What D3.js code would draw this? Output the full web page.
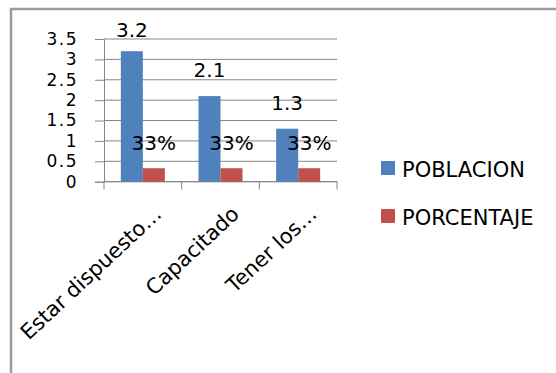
<!DOCTYPE html>
<html>
<head>
<meta charset="utf-8">
<script src="https://cdn.jsdelivr.net/npm/d3@7"></script>
<style>
  html, body { margin: 0; padding: 0; background: #fff; }
  svg { display: block; font-family: "DejaVu Sans", sans-serif; }
</style>
</head>
<body>
<svg id="chart" width="556" height="373"></svg>
<script>
// Categories and series
const categories = ["Estar dispuesto…", "Capacitado", "Tener los…"];
const seriesNames = ["POBLACION", "PORCENTAJE"];
const poblacion = [3.2, 2.1, 1.3];
const porcentaje = [0.33, 0.33, 0.33];
const yTicks = [0, 0.5, 1, 1.5, 2, 2.5, 3, 3.5];
const colors = ["#4F81BD", "#C0504D"];

const svg = d3.select("#chart");

// Outer chart frame (only top and left edges fall inside the view)
svg.append("rect")
  .attr("x", 11).attr("y", 9)
  .attr("width", 600).attr("height", 420)
  .attr("fill", "none")
  .attr("stroke", "#9b9b9b")
  .attr("stroke-width", 2.5);

const plot = { left: 104, right: 337, top: 39, bottom: 181.7 };

const y = d3.scaleLinear().domain([0, 3.5]).range([plot.bottom, plot.top]);
const x = d3.scaleBand().domain(categories).range([plot.left, plot.right])
  .paddingInner(0).paddingOuter(0);
const xs = d3.scaleBand().domain(seriesNames).range([0, x.bandwidth()])
  .paddingInner(0).paddingOuter(0.765);

// Horizontal gridlines
svg.append("g").selectAll("line").data(yTicks).join("line")
  .attr("x1", plot.left).attr("x2", plot.right)
  .attr("y1", d => y(d)).attr("y2", d => y(d))
  .attr("stroke", "#868686").attr("stroke-width", 1);

// Y axis
const yAxis = d3.axisLeft(y).tickValues(yTicks).tickSize(9).tickPadding(18)
  .tickFormat(d3.format("~g"));
const gy = svg.append("g").attr("transform", `translate(${plot.left},0)`).call(yAxis);
gy.select(".domain").attr("stroke", "#868686");
gy.selectAll(".tick line").attr("stroke", "#868686");
gy.selectAll(".tick text")
  .attr("fill", "#000").attr("font-size", 17)
  .attr("letter-spacing", 1.5)
  .attr("font-family", "DejaVu Sans, sans-serif")
  .attr("x", -26);

// X axis baseline and category tick marks at band edges
svg.append("line")
  .attr("x1", plot.left).attr("x2", plot.right)
  .attr("y1", plot.bottom).attr("y2", plot.bottom)
  .attr("stroke", "#868686");
const edges = categories.map(c => x(c)).concat([plot.right]);
svg.append("g").selectAll("line").data(edges).join("line")
  .attr("x1", d => d).attr("x2", d => d)
  .attr("y1", plot.bottom).attr("y2", plot.bottom + 8)
  .attr("stroke", "#868686");

// Bars
const rows = categories.map((c, i) => ({ cat: c, vals: [poblacion[i], porcentaje[i]] }));
const groups = svg.append("g").selectAll("g").data(rows).join("g")
  .attr("transform", d => `translate(${x(d.cat)},0)`);
groups.selectAll("rect")
  .data(d => d.vals.map((v, j) => ({ s: seriesNames[j], v, j })))
  .join("rect")
  .attr("x", d => xs(d.s))
  .attr("width", xs.bandwidth())
  .attr("y", d => y(d.v))
  .attr("height", d => y(0) - y(d.v))
  .attr("fill", d => colors[d.j]);

// Value labels: POBLACION above bars, PORCENTAJE as percentages
groups.append("text")
  .attr("x", xs(seriesNames[0]) + xs.bandwidth() / 2)
  .attr("y", d => Math.max(y(d.vals[0]) - 19, 37))
  .attr("text-anchor", "middle")
  .attr("font-size", 20)
  .text(d => d3.format("~g")(d.vals[0]));
groups.append("text")
  .attr("x", xs(seriesNames[1]) + xs.bandwidth() / 2)
  .attr("y", 150)
  .attr("text-anchor", "middle")
  .attr("font-size", 20)
  .text(d => d3.format(".0%")(d.vals[1]));

// Rotated category labels
svg.append("g").selectAll("text").data(categories).join("text")
  .attr("transform", d => `translate(${x(d) + x.bandwidth() / 2 + 20},${plot.bottom + 34}) rotate(-43)`)
  .attr("text-anchor", "end")
  .attr("font-size", 21)
  .text(d => d);

// Legend
const legend = svg.append("g").selectAll("g").data(seriesNames).join("g")
  .attr("transform", (d, i) => `translate(381,${161 + i * 48})`);
legend.append("rect")
  .attr("width", 14).attr("height", 14)
  .attr("fill", (d, i) => colors[i]);
legend.append("text")
  .attr("x", 21).attr("y", 15.5)
  .attr("font-size", 21)
  .text(d => d);
</script>
</body>
</html>
